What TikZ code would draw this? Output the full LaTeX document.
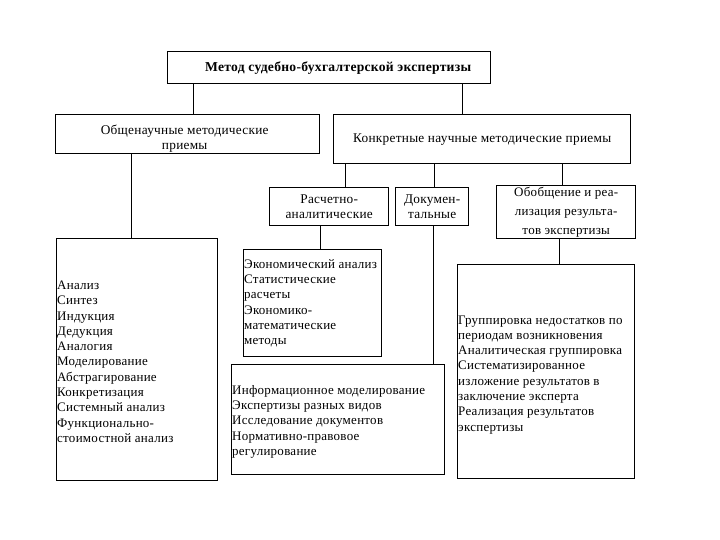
\documentclass[tikz,border=0pt]{standalone}
\usepackage{fontspec}
\setmainfont{Liberation Serif}
\newfontfamily\rfont[LetterSpace=2]{Liberation Serif}
\begin{document}
\begin{tikzpicture}[x=1pt,y=-1pt,
  box/.style={draw, line width=1.4pt, inner sep=0pt, anchor=north west},
  ctext/.style={align=center, inner sep=0pt, font=\rfont\fontsize{13.3}{15}\selectfont},
  ltext/.style={align=left, inner sep=0pt, anchor=west, font=\rfont\fontsize{13}{15.3}\selectfont},
  conn/.style={line width=0.9pt}]
\useasboundingbox (0,0) rectangle (720,540);
% boxes
\node[box, minimum width=323pt, minimum height=32pt] (top) at (167,51) {};
\node[box, minimum width=264pt, minimum height=39pt] (gen) at (55,114) {};
\node[box, minimum width=297pt, minimum height=49pt] (conc) at (333,114) {};
\node[box, minimum width=119pt, minimum height=38pt] (calc) at (269,187) {};
\node[box, minimum width=73pt, minimum height=38pt] (doc) at (395,187) {};
\node[box, minimum width=139pt, minimum height=53pt] (sum) at (496,185) {};
\node[box, minimum width=161pt, minimum height=242pt] (lb) at (56,238) {};
\node[box, minimum width=138pt, minimum height=107pt] (econ) at (243,249) {};
\node[box, minimum width=213pt, minimum height=110pt] (info) at (231,364) {};
\node[box, minimum width=177pt, minimum height=214pt] (res) at (457,264) {};
% texts
\node[ctext, font=\rfont\bfseries\fontsize{13.6}{15}\selectfont] (ttop) at ([xshift=9pt]top.center) {Метод судебно-бухгалтерской экспертизы};
\node[ctext] (tgen) at ([yshift=-4pt,xshift=-3pt]gen.center) {Общенаучные методические\\приемы};
\node[ctext] (tconc) at (conc.center) {Конкретные научные методические приемы};
\node[ctext] (tcalc) at (calc.center) {Расчетно-\\аналитические};
\node[ctext] (tdoc) at (doc.center) {Докумен-\\тальные};
\node[ctext, font=\rfont\fontsize{13}{19}\selectfont] (tsum) at (sum.center) {Обобщение и реа-\\лизация результа-\\тов экспертизы};
\node[ltext] (tlb) at ([xshift=1pt,yshift=-2pt]lb.west) {Анализ\\Синтез\\Индукция\\Дедукция\\Аналогия\\Моделирование\\Абстрагирование\\Конкретизация\\Системный анализ\\Функционально-\\стоимостной анализ};
\node[ltext] (tecon) at ([xshift=1pt]econ.west) {Экономический анализ\\Статистические\\расчеты\\Экономико-\\математические\\методы};
\node[ltext] (tinfo) at ([xshift=1pt,yshift=-2pt]info.west) {Информационное моделирование\\Экспертизы разных видов\\Исследование документов\\Нормативно-правовое\\регулирование};
\node[ltext] (tres) at ([xshift=1pt,yshift=-3pt]res.west) {Группировка недостатков по\\периодам возникновения\\Аналитическая группировка\\Систематизированное\\изложение результатов в\\заключение эксперта\\Реализация результатов\\экспертизы};
% connectors
\draw[conn] (top.south -| 193,0) -- (gen.north -| 193,0);
\draw[conn] (top.south -| 462,0) -- (conc.north -| 462,0);
\draw[conn] (gen.south -| 131,0) -- (lb.north -| 131,0);
\draw[conn] (conc.south -| 345,0) -- (calc.north -| 345,0);
\draw[conn] (conc.south -| 434,0) -- (doc.north -| 434,0);
\draw[conn] (conc.south -| 562,0) -- (sum.north -| 562,0);
\draw[conn] (calc.south -| 320,0) -- (econ.north -| 320,0);
\draw[conn] (doc.south -| 433,0) -- (info.north -| 433,0);
\draw[conn] (sum.south -| 559,0) -- (res.north -| 559,0);
\end{tikzpicture}
\end{document}
